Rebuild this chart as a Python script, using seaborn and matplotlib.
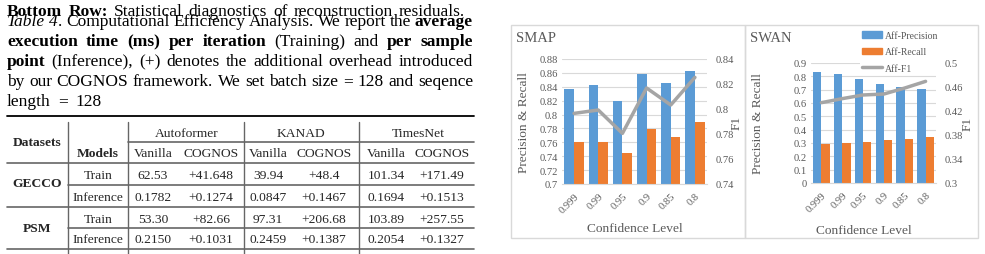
import numpy as np
import pandas as pd
import seaborn as sns
import matplotlib.pyplot as plt
from matplotlib.patches import Patch, Rectangle
from matplotlib.lines import Line2D

# ======================= DATA ============================================== #
conf_levels = ['0.999', '0.99', '0.95', '0.9', '0.85', '0.8']

smap_precision = [0.837, 0.842, 0.820, 0.859, 0.845, 0.863]
smap_recall = [0.760, 0.761, 0.745, 0.779, 0.767, 0.790]
smap_f1 = [0.7965, 0.7992, 0.7805, 0.8168, 0.8032, 0.8253]

swan_precision = [0.833, 0.820, 0.783, 0.745, 0.723, 0.708]
swan_recall = [0.290, 0.300, 0.310, 0.320, 0.333, 0.348]
swan_f1 = [0.4339, 0.4406, 0.4467, 0.4483, 0.4583, 0.4694]

smap_left_ticks = [0.7, 0.72, 0.74, 0.76, 0.78, 0.8, 0.82, 0.84, 0.86, 0.88]
smap_right_ticks = [0.74, 0.76, 0.78, 0.8, 0.82, 0.84]
swan_left_ticks = [0, 0.1, 0.2, 0.3, 0.4, 0.5, 0.6, 0.7, 0.8, 0.9]
swan_right_ticks = [0.3, 0.34, 0.38, 0.42, 0.46, 0.5]

table_models = ['Autoformer', 'KANAD', 'TimesNet']
table_datasets = ['GECCO', 'PSM']
table_phases = ['Train', 'Inference']
table_vanilla = [['62.53', '39.94', '101.34'],
                 ['0.1782', '0.0847', '0.1694'],
                 ['53.30', '97.31', '103.89'],
                 ['0.2150', '0.2459', '0.2054']]
table_cognos = [['+41.648', '+48.4', '+171.49'],
                ['+0.1274', '+0.1467', '+0.1513'],
                ['+82.66', '+206.68', '+257.55'],
                ['+0.1031', '+0.1387', '+0.1327']]

caption_lines = [
    [("execution time (ms) per iteration", 'bold'), (" (Training) and ", 'normal'), ("per sample", 'bold')],
    [("point", 'bold'), (" (Inference), (+) denotes the additional overhead introduced", 'normal')],
    [("by our COGNOS framework. We set batch size = 128 and seqence", 'normal')],
]

BLUE, ORANGE, GRAY = '#5B9BD5', '#ED7D31', '#A5A5A5'
TXT = '#595959'
GRID = '#D9D9D9'

# ======================= SETUP ============================================= #
sns.set_style('white')
plt.rcParams['font.family'] = ['Liberation Serif', 'DejaVu Serif']

W, H = 985, 255
fig = plt.figure(figsize=(W / 100, H / 100), dpi=100)
renderer = fig.canvas.get_renderer()

# full-page axes in pixel units for the caption and the table
page = fig.add_axes([0, 0, 1, 1])
page.set_xlim(0, W)
page.set_ylim(H, 0)
page.axis('off')

STYLE = {'bold': dict(fontweight='bold'),
         'italic': dict(fontstyle='italic'),
         'normal': dict()}


def put_line(y, pieces, x0=7, x1=473, justify=True, size=12.5):
    # split pieces into words, gluing fragments that touch
    words = []
    glue = False
    for text, st in pieces:
        for i, p in enumerate(text.split(' ')):
            if i > 0:
                glue = False
            if p == '':
                continue
            if glue and words:
                words[-1].append((p, st))
            else:
                words.append([(p, st)])
            glue = True
    items = []
    for word in words:
        frags = []
        for p, st in word:
            t = page.text(0, y, p, fontsize=size, va='baseline', ha='left',
                          color='black', **STYLE[st])
            frags.append((t, t.get_window_extent(renderer).width))
        items.append(frags)
    widths = [sum(w for _, w in f) for f in items]
    if justify and len(items) > 1:
        gap = (x1 - x0 - sum(widths)) / (len(items) - 1)
    else:
        gap = size * 100 / 72 * 0.3
    x = x0
    for frags in items:
        for t, w in frags:
            t.set_x(x)
            x += w
        x += gap


# ======================= CAPTION =========================================== #
put_line(16.5, [("Bottom Row:", 'bold'),
                (" Statistical diagnostics of reconstruction residuals.", 'normal')],
         x1=465)
put_line(26.5, [("Table 4", 'italic'),
                (". Computational Efficiency Analysis. We report the ", 'normal'),
                ("average", 'bold')])
for k, pieces in enumerate(caption_lines):
    put_line(46.5 + 20 * k, pieces)
put_line(106, [("length = 128", 'normal')], x1=102)

# ======================= TABLE ============================================= #
TX0, TX1 = 7, 474
page.plot([TX0, TX1], [117, 117], color='black', lw=1.3)
for y, xa in [(143, 128), (164, TX0), (186, 68), (208, TX0), (229, 68), (250, TX0)]:
    page.plot([xa, TX1], [y, y], color='#666666', lw=1.2)
for x in [68, 128, 244, 359]:
    page.plot([x, x], [123, 255], color='#666666', lw=1.0)

TS = 9.7
page.text(37, 145.7, 'Datasets', fontsize=TS, fontweight='bold', ha='center', va='baseline')
page.text(98, 156.7, 'Models', fontsize=TS, fontweight='bold', ha='center', va='baseline')
model_x = [187, 301, 418]
col_x = [(153, 211), (268, 324), (386, 442)]
for m, mx, (vx, cx) in zip(table_models, model_x, col_x):
    page.text(mx, 137.3, m, fontsize=TS, ha='center', va='baseline')
    page.text(vx, 156.7, 'Vanilla', fontsize=TS, ha='center', va='baseline')
    page.text(cx, 156.7, 'COGNOS', fontsize=TS, ha='center', va='baseline')

row_base = [179, 200.7, 222.7, 243.3]
for d, yb in zip(table_datasets, [186.7, 232]):
    page.text(37, yb, d, fontsize=TS, fontweight='bold', ha='center', va='baseline')
for r, yb in enumerate(row_base):
    page.text(98, yb, table_phases[r % 2], fontsize=TS, ha='center', va='baseline')
    for j, (vx, cx) in enumerate(col_x):
        page.text(vx, yb, table_vanilla[r][j], fontsize=TS, ha='center', va='baseline')
        page.text(cx, yb, table_cognos[r][j], fontsize=TS, ha='center', va='baseline')

# ======================= CHARTS ============================================ #
for x0, x1 in [(511, 745), (745, 978)]:
    page.add_patch(Rectangle((x0, 26), x1 - x0, 213, fill=False,
                             edgecolor=GRID, lw=1.0))


def px_axes(x0, y0, x1, y1):
    return fig.add_axes([x0 / W, 1 - y1 / H, (x1 - x0) / W, (y1 - y0) / H])


def draw_chart(ax, prec, rec, f1, lticks, rticks, lab_left, lab_right, lab_x):
    df = pd.DataFrame({'conf': conf_levels * 2,
                       'value': prec + rec,
                       'metric': ['Aff-Precision'] * 6 + ['Aff-Recall'] * 6})
    sns.barplot(data=df, x='conf', y='value', hue='metric', order=conf_levels,
                palette=[BLUE, ORANGE], saturation=1, width=0.8, linewidth=0,
                legend=False, ax=ax)
    ax.set_ylim(lticks[0], lticks[-1])
    ax.set_yticks(lticks)
    ax.set_yticklabels([f'{v:g}' for v in lticks])
    ax.grid(axis='y', color=GRID, lw=0.8)
    ax.set_axisbelow(True)
    for s in ax.spines.values():
        s.set_visible(False)
    ax.spines['bottom'].set_visible(True)
    ax.spines['bottom'].set_color(GRID)
    ax.tick_params(length=0, labelsize=7.6, colors=TXT, pad=3)
    ax.tick_params(axis='x', pad=5)
    for lbl in ax.get_xticklabels():
        lbl.set_rotation(45)
        lbl.set_ha('right')
        lbl.set_rotation_mode('anchor')
    ax.set_xlabel('Confidence Level', fontsize=9.6, color=TXT)
    ax.set_ylabel('Precision & Recall', fontsize=9.6, color=TXT)
    ax.xaxis.set_label_coords(*lab_x)
    ax.yaxis.set_label_coords(lab_left, 0.5)

    ax2 = ax.twinx()
    sns.lineplot(x=np.arange(len(conf_levels)), y=f1, ax=ax2, color=GRAY, lw=2.5)
    ax2.set_ylim(rticks[0], rticks[-1])
    ax2.set_yticks(rticks)
    ax2.set_yticklabels([f'{v:g}' for v in rticks])
    ax2.grid(False)
    for s in ax2.spines.values():
        s.set_visible(False)
    ax2.tick_params(length=0, labelsize=7.6, colors=TXT, pad=6)
    ax2.set_ylabel('F1', fontsize=9.6, color=TXT)
    ax2.yaxis.set_label_coords(lab_right, 0.5)
    ax.set_xlim(-0.5, len(conf_levels) - 0.5)
    return ax2


ax_smap = px_axes(562, 60, 707, 185)
draw_chart(ax_smap, smap_precision, smap_recall, smap_f1,
           smap_left_ticks, smap_right_ticks, -0.22, 1.166, (0.503, -0.304))
page.text(516, 39, 'SMAP', fontsize=10.5, color=TXT, va='center', ha='left')

ax_swan = px_axes(811, 64, 936, 184)
draw_chart(ax_swan, swan_precision, swan_recall, swan_f1,
           swan_left_ticks, swan_right_ticks, -0.376, 1.208, (0.424, -0.342))
page.text(750, 39, 'SWAN', fontsize=10.5, color=TXT, va='center', ha='left')

handles = [Patch(color=BLUE, label='Aff-Precision'),
           Patch(color=ORANGE, label='Aff-Recall'),
           Line2D([], [], color=GRAY, lw=2.5, label='Aff-F1')]
leg = fig.legend(handles=handles, loc='upper left',
                 bbox_to_anchor=(860 / W, 1 - 30 / H), bbox_transform=fig.transFigure,
                 fontsize=7, frameon=True, facecolor='white', edgecolor='none',
                 framealpha=1, borderpad=0.2, handlelength=2.1, handleheight=0.6,
                 handletextpad=0.3, labelspacing=0.75, borderaxespad=0)
for t in leg.get_texts():
    t.set_color(TXT)

fig.savefig('out.png', dpi=100)
